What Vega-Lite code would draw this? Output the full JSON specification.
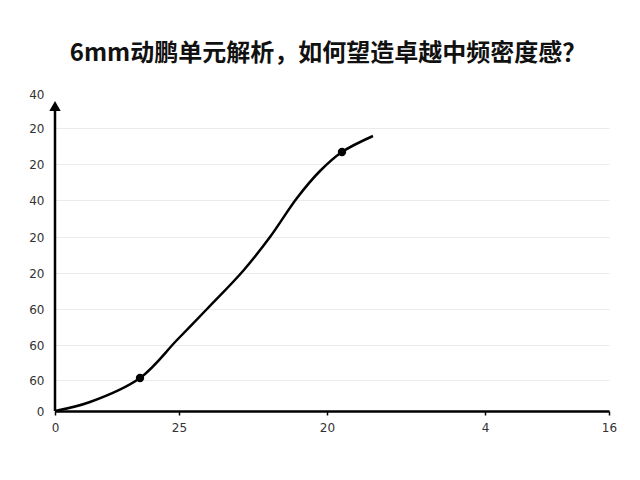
{
  "$schema": "https://vega.github.io/schema/vega-lite/v6.json",
  "autosize": {"type": "none"},
  "width": 554,
  "height": 318,
  "padding": {"left": 55, "top": 93, "right": 31, "bottom": 69},
  "background": "white",
  "title": {
    "text": "6mm动鹏单元解析，如何望造卓越中频密度感？",
    "font": "Noto Sans CJK SC",
    "fontSize": 24,
    "fontWeight": "bold",
    "color": "#111111",
    "offset": 22,
    "dx": -4
  },
  "config": {
    "view": {"stroke": null}
  },
  "datasets": {
    "curve": [
      {"x": 0, "y": 0},
      {"x": 35, "y": 9},
      {"x": 85, "y": 33},
      {"x": 122, "y": 71},
      {"x": 152, "y": 102},
      {"x": 188, "y": 140},
      {"x": 215, "y": 174},
      {"x": 242, "y": 213},
      {"x": 265, "y": 240},
      {"x": 287, "y": 259},
      {"x": 318, "y": 275}
    ],
    "dots": [
      {"x": 85, "y": 33},
      {"x": 287, "y": 259}
    ],
    "yaxis": [
      {"x": 0, "y": 0, "y2": 302}
    ],
    "arrow": [
      {"x": 0, "y": 305}
    ]
  },
  "encoding": {
    "x": {
      "field": "x",
      "type": "quantitative",
      "scale": {"domain": [0, 554], "nice": false, "zero": false},
      "axis": {
        "title": null,
        "values": [0, 124, 272, 430, 554],
        "labelExpr": "['0','25','20','4','16'][indexof([0,124,272,430,554], datum.value)]",
        "labelFlush": false,
        "labelOverlap": false,
        "labelFont": "DejaVu Sans",
        "labelFontSize": 12,
        "labelColor": "#333333",
        "grid": false,
        "domainColor": "#000000",
        "domainWidth": 2.5,
        "tickColor": "#000000",
        "tickSize": 4,
        "tickWidth": 1.5,
        "labelPadding": 7
      }
    },
    "y": {
      "field": "y",
      "type": "quantitative",
      "scale": {"domain": [0, 318], "nice": false, "zero": false},
      "axis": {
        "title": null,
        "values": [0, 31, 66, 102, 138, 174, 211, 247, 283, 317],
        "labelExpr": "['0','60','60','60','20','20','40','20','20','40'][indexof([0,31,66,102,138,174,211,247,283,317], datum.value)]",
        "labelOverlap": false,
        "labelFlush": false,
        "labelFont": "DejaVu Sans",
        "labelFontSize": 12,
        "labelColor": "#333333",
        "domain": false,
        "ticks": false,
        "labelPadding": 11,
        "grid": true,
        "gridColor": "#ebebeb",
        "gridWidth": 1,
        "gridOpacity": {"condition": {"test": "datum.value > 300 || datum.value == 0", "value": 0}, "value": 1}
      }
    }
  },
  "layer": [
    {
      "data": {"name": "yaxis"},
      "mark": {"type": "rule", "color": "#000000", "strokeWidth": 2.5},
      "encoding": {"y2": {"field": "y2"}}
    },
    {
      "data": {"name": "arrow"},
      "mark": {"type": "point", "shape": "triangle-up", "filled": true, "color": "#000000", "size": 130, "opacity": 1}
    },
    {
      "data": {"name": "curve"},
      "mark": {"type": "line", "interpolate": "catmull-rom", "color": "#000000", "strokeWidth": 2.5}
    },
    {
      "data": {"name": "dots"},
      "mark": {"type": "circle", "color": "#000000", "size": 70, "opacity": 1}
    }
  ]
}
